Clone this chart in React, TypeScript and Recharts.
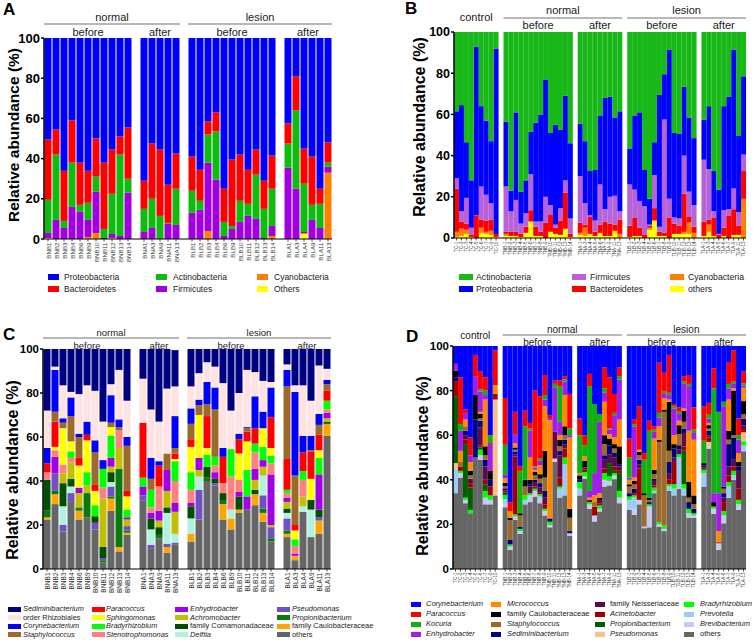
import React from "react";
import { BarChart, Bar, XAxis, YAxis } from "recharts";

const FONT = "'Liberation Sans', Arial, Helvetica, sans-serif";

// ---------- panel A : phylum level, normal / lesion skin ----------
const aSamples = [
  "BNB1", "BNB2", "BNB3", "BNB4", "BNB6", "BNB9", "BNB10", "BNB11", "BNB12", "BNB13", "BNB14",
  "BNA1", "BNA3", "BNA9", "BNA11", "BNA13",
  "BLB1", "BLB2", "BLB3", "BLB4", "BLB6", "BLB9", "BLB10", "BLB11", "BLB12", "BLB13", "BLB14",
  "BLA1", "BLA3", "BLA4", "BLA9", "BLA11", "BLA13",
];
const aGroupSizes = [11, 5, 11, 6];
const aOthers = [0.5, 0, 0, 0, 0, 0, 0, 0, 0.5, 0, 0, 0, 0, 0, 0, 0, 0, 0, 0, 0, 0, 0, 0, 0, 0, 0, 0, 0, 0, 2.5, 0, 0, 0];
const aCyano = [0, 0, 0, 0, 0, 1, 3, 0, 0, 0, 0, 0, 0, 0, 0, 0, 0, 0, 4, 0, 0, 0, 0, 0, 0, 0, 1.5, 0, 0, 0.5, 0, 0, 33];
const aFirm = [2.5, 9.5, 5.5, 16, 13.5, 8.5, 20.5, 0.5, 2, 1.5, 23, 3.5, 5.5, 0.3, 7.5, 7, 13, 14.5, 34, 29.5, 1.5, 5, 8.5, 11.5, 10, 0.5, 5, 35.5, 25, 0.5, 9.5, 5.5, 3];
const aActino = [16.5, 32.5, 3.5, 22, 3.5, 8.5, 7.5, 4.5, 20, 40.5, 7, 11.5, 14.5, 11.2, 0.5, 18, 11, 4.5, 14, 24, 7, 1.5, 10.5, 6, 22, 14.5, 18.5, 12, 39, 24, 7.5, 12, 2];
const aBactero = [30, 12.5, 25, 21, 21, 16, 19, 33, 22, 9, 25.5, 14, 27.5, 33, 19, 17.5, 17, 15.5, 6.5, 9.5, 16.5, 33, 23, 17, 12.5, 14, 16.5, 10, 17, 17.5, 24, 7.5, 10];
const aProteo = [50.5, 45.5, 66, 41, 62, 66, 50, 62, 55.5, 49, 44.5, 71, 52.5, 55.5, 73, 57.5, 59, 65.5, 41.5, 37, 75, 60.5, 58, 65.5, 55.5, 71, 58.5, 42.5, 19, 55, 59, 75, 52];

// ---------- panel B : phylum level, control / normal / lesion ----------
const bSamples = [
  "TC-1", "TC-2", "TC-3", "TC-4", "TC-5", "TC-6", "TC-7", "TC-9", "TC-10",
  "TNB-1", "TNB-2", "TNB-3", "TNB-4", "TNB-5", "TNB-6", "TNB-7", "TNB-8", "TNB-9", "TNB-10", "TNB-11", "TNB-12", "TNB-13", "TNB-14",
  "TNA-1", "TNA-3", "TNA-4", "TNA-5", "TNA-6", "TNA-7", "TNA-9", "TNA-11", "TNA-13",
  "TLB-1", "TLB-2", "TLB-3", "TLB-4", "TLB-5", "TLB-6", "TLB-7", "TLB-8", "TLB-9", "TLB-10", "TLB-11", "TLB-12", "TLB-13", "TLB-14",
  "TLA-1", "TLA-3", "TLA-4", "TLA-5", "TLA-6", "TLA-7", "TLA-9", "TLA-11", "TLA-13",
];
const bGroupSizes = [9, 14, 9, 14, 9];
const bOthers = [
  0.5, 1, 2, 0.5, 0, 2.5, 2, 1.5, 0.5,
  1, 1, 1, 0.5, 2.5, 8, 1, 1, 0, 3, 2, 1.5, 4.5, 0.5,
  1.5, 1, 2, 1, 2.5, 1, 1, 3.5, 0,
  0.5, 1, 1, 0, 4, 8.5, 1, 1, 0, 2, 2, 2, 2, 0,
  1, 3, 1, 0, 1, 0, 1.5, 1.5, 0,
];
const bCyano = [
  2.5, 3.5, 2, 0, 0, 2.5, 1, 2, 0,
  1, 0, 0, 0, 0, 0, 0, 0, 0, 0, 0, 0, 0, 0,
  1, 4, 0, 0, 0, 0, 0, 0, 2,
  0, 0, 0, 0, 1, 0, 0, 0, 0, 0, 0, 1, 5.5, 2.5,
  0, 3.5, 0, 0, 0, 0, 0, 0, 19,
];
const bBactero = [
  21, 3.5, 3, 1, 11, 4, 5.5, 5.5, 1.5,
  1, 2, 2, 1.5, 3, 5.5, 4.5, 2, 7.5, 8.5, 3, 7, 17.5, 1.5,
  5, 1.5, 8.5, 2, 4, 7, 6, 3, 7,
  5.5, 9, 4, 1.5, 1, 6, 2, 1.5, 10, 5, 4, 18.5, 3, 3,
  7, 2.5, 9, 1.5, 4, 11, 12.5, 4.5, 13.5,
];
const bFirm = [
  5, 5, 12.5, 3.5, 0, 16, 12.5, 8, 0,
  22, 10, 15.5, 5, 6.5, 17.5, 2.5, 5, 12.5, 4.5, 1.5, 6, 6, 7.5,
  22.5, 10.5, 0.5, 5.5, 19.5, 6, 13, 14, 4,
  20, 13.5, 13, 14, 0.5, 16, 2.5, 55, 9, 3, 3.5, 18.5, 12, 10.5,
  30, 24.5, 3, 0.5, 8.5, 3, 10, 6.5, 8,
];
const bProteo = [
  32.5, 51.5, 27, 23, 82, 39, 36, 30, 90,
  31.5, 10, 42.5, 15.5, 16, 20.5, 48, 52, 57, 35, 48.5, 38, 41, 36.5,
  25.5, 30, 21.5, 24.5, 33.5, 54, 48.5, 38, 48.5,
  17.5, 36, 43, 17.5, 12.5, 16, 64, 22, 72.5, 41, 41, 33.5, 36, 32.5,
  19.5, 30.5, 19.5, 21.5, 50.5, 54.5, 67.5, 37, 38,
];
const bActino = [
  38.5, 35.5, 53.5, 72, 7, 36, 43, 53, 8,
  43.5, 77, 39, 77.5, 72, 48.5, 44, 40, 23, 49, 45, 47.5, 31, 54,
  44.5, 53, 67.5, 67, 40.5, 32, 31.5, 41.5, 38.5,
  56.5, 40.5, 39, 67, 81, 53.5, 30.5, 20.5, 8.5, 49, 49.5, 26.5, 41.5, 51.5,
  42.5, 36, 67.5, 76.5, 36, 31.5, 8.5, 50.5, 21.5,
];

// ---------- panel C : genus level, normal / lesion skin ----------
const cOthers = [22.5, 29.5, 17, 30.5, 22.5, 23.5, 18, 3, 26.5, 8, 15.5, 31, 9.5, 14, 7.5, 11, 12.5, 22.5, 40, 38, 22.5, 18, 25.5, 27, 29, 21.5, 12.5, 14.5, 4, 26, 14.5, 16, 60.5];
const cCaulo = [1, 4.5, 0, 0, 4, 0, 0, 0, 5.5, 2, 1, 0, 0, 0, 2.5, 0, 3.5, 0, 0, 0, 7, 5, 1.5, 0, 5, 4, 0, 1.5, 2, 0, 0, 6, 5.5];
const cPropi = [3, 1.5, 0, 0, 1.5, 11, 0, 1, 1, 35.5, 1, 0, 0, 1.5, 0, 0, 0, 0, 1.5, 0, 1.5, 0, 0, 0, 0, 2, 1.5, 1.5, 0, 0, 0, 0, 0];
const cPseudo = [0, 8, 3, 4, 0, 0, 3, 1, 4.5, 0, 2, 2.5, 1.5, 0, 1.5, 1, 0, 13.5, 0, 1, 0, 0, 0, 0, 0, 6, 5, 5.5, 0, 0, 0, 1.5, 0];
const cDelftia = [0, 0, 8.5, 3, 0, 0, 0, 0, 2, 0, 0, 0, 7, 0, 14, 4, 7, 6, 0, 0, 0, 4, 0, 0, 0, 9, 0, 2.5, 0, 2.5, 12.5, 0, 0];
const cComam = [14, 0, 10.5, 3.5, 0, 0, 3, 5, 4.5, 0, 0, 0, 5, 3.5, 2.5, 0, 5.5, 0, 5, 2, 3.5, 0, 6, 0, 2, 0, 0, 2, 0, 0, 4.5, 3.5, 1];
const cAchro = [0, 0, 4.5, 7.5, 6.5, 3.5, 0, 22, 2.5, 9.5, 3, 0, 0, 3, 7.5, 10, 0, 3, 0, 0, 0, 0, 0, 0, 4.5, 4, 1, 3, 0, 4.5, 0, 0, 1.5];
const cEnhydro = [0, 7.5, 0, 0, 2.5, 0, 0, 0, 4, 0, 1, 4, 2.5, 4.5, 9.5, 4, 1.5, 5.5, 0, 3, 0, 0, 2, 6, 5, 3, 23, 2, 1, 0, 0, 16, 2.5];
const cSteno = [3.5, 3, 4, 2, 0, 0, 0, 5, 0, 8, 0, 0, 2.5, 11, 0, 10, 6, 0, 0, 3, 4.5, 15, 5.5, 0, 7.5, 0, 5, 2, 3.5, 7.5, 0, 0, 1.5];
const cBrady = [0, 0, 0, 3, 0, 6, 5, 8.5, 10, 0, 3.5, 4, 8, 0, 0, 9, 8, 0, 5.5, 4, 0, 12.5, 0, 12, 4, 6, 3.5, 1.5, 3, 4, 0, 7.5, 4];
const cSphingo = [0, 1.5, 16.5, 4.5, 10, 14.5, 6.5, 0, 4, 0, 6, 0, 0, 0, 0, 1, 11.5, 19.5, 3, 0, 0, 0, 12, 13, 0, 8.5, 3.5, 0, 4, 0, 9.5, 3.5, 0];
const cParac = [4, 11.5, 0, 0, 3.5, 2.5, 3, 0, 0, 0, 2.5, 25, 0, 9.5, 0, 2.5, 3.5, 0, 14.5, 0, 12, 0, 6.5, 4.5, 7, 0, 14, 14, 2.5, 8.5, 12.5, 7, 4.5];
const cStaph = [0, 4.5, 2.5, 11.5, 9.5, 0, 14.5, 0, 2, 1.5, 20.5, 0, 5, 0, 7.5, 2.5, 7, 4.5, 5.5, 21.5, 0, 0, 0, 1.5, 0, 0, 0, 33, 22.5, 0, 0.5, 4.5, 3];
const cCoryne = [7, 19, 2, 8.5, 1.5, 6, 5.5, 4, 12.5, 3.5, 4, 0, 9.5, 2, 0, 14.5, 7, 2.5, 10, 10, 4, 0, 2.5, 0.5, 14.5, 7.5, 13.5, 7.5, 38, 7.5, 6.5, 5, 2];
const cRhizo = [17, 1.5, 15, 2.5, 18, 16.5, 22.5, 17.5, 5, 22.5, 16.5, 20, 22, 18, 29.5, 13.5, 10, 12, 9, 9.5, 29.5, 17.5, 18.5, 26, 11, 14, 2.5, 2.5, 3, 23, 16, 22, 5];
const cSedi = [28, 8, 16.5, 19.5, 20.5, 16.5, 19, 33, 16, 9.5, 23.5, 13.5, 27.5, 33, 18, 16.5, 17, 11, 6, 8, 15.5, 28, 20, 9.5, 10.5, 14.5, 15, 7, 16.5, 16.5, 23.5, 7.5, 9];

// ---------- panel D : genus level, control / normal / lesion ----------
const dOthers = [
  34, 41, 29.5, 25, 50, 49, 29, 29, 33,
  27.7, 8.5, 22, 15.7, 29, 30, 32.5, 29.5, 24, 18.7, 48, 32, 33, 15,
  33, 40.5, 27, 21.3, 25.8, 37, 37.5, 40.3, 29.5,
  26.5, 24.3, 29, 18.3, 18.7, 34, 19, 17, 35, 33, 36, 33, 23, 23,
  37, 54, 24.7, 8.5, 20.5, 32, 40, 26.5, 52.8,
];
const dBrevi = [
  0, 2, 1.5, 0, 0, 2, 3, 2, 0,
  1.5, 1.5, 1.5, 1.3, 0, 3, 2.5, 2, 2, 1, 1.5, 0, 0, 1,
  0, 1, 2, 2.7, 1.2, 3, 2, 1.7, 2.5,
  0, 2.7, 2, 0.7, 9.3, 0, 1, 1, 0, 0, 0, 0, 2, 1,
  0, 1, 2.3, 3, 3.5, 0, 0, 2.5, 0.5,
];
const dPrev = [
  11, 0, 0, 0, 0, 0, 0, 0, 0,
  2, 0, 0, 0, 2, 0, 0, 1, 0, 0, 0, 4, 14, 0,
  3, 0, 0, 0, 0, 0, 0, 0, 0,
  4.5, 5, 0, 0, 0, 1, 0, 0, 2, 3, 14, 3, 0, 0,
  6, 0, 0, 0, 0, 5, 2, 0, 2,
];
const dBrady = [
  0, 1, 1, 1.5, 0, 2.5, 3, 2, 0,
  2, 1, 1, 1, 2, 1, 1, 1, 1, 1.5, 0, 1, 3, 0,
  3, 2, 1, 0, 1.5, 3, 2, 1, 3,
  1.5, 1, 0, 0, 1, 1.5, 1, 1.5, 1, 2, 1.5, 2, 2, 1,
  1.5, 0, 1, 0, 2, 2, 2, 2, 2,
];
const dPseud = [
  2.5, 0, 0, 0, 0, 0, 0, 0, 43,
  0, 0, 0, 0, 0, 0, 0, 0, 0, 0, 0, 0, 0, 0,
  0, 0, 0, 0, 0, 0, 0, 0, 0,
  0, 0, 0, 0, 0, 0, 0, 0, 0, 0, 0, 0, 0, 0,
  0, 2, 0, 0, 0, 0, 0, 0, 4,
];
const dPropi = [
  30, 0, 24, 10, 0, 1, 3, 0, 0,
  1, 0, 0, 0, 0, 0, 0, 0, 0, 0, 0, 0, 0, 0,
  0, 0, 0, 0, 0, 0, 6, 1, 8,
  0, 0, 0, 0, 0, 0, 0, 0, 0, 0, 0, 15, 0, 0,
  0, 0, 0, 0, 0, 0, 0, 0, 0,
];
const dAcin = [
  6.5, 2, 2, 2, 0, 1, 2, 4, 2.5,
  1, 0, 26, 0, 0, 0, 1, 1, 2, 0, 0, 4, 4, 0,
  0, 1, 0, 4, 1, 2, 0, 2, 1,
  0, 1, 14, 0, 0, 1, 0, 0, 2, 10, 0, 2, 0, 0,
  1, 2, 0, 0.5, 4, 3, 2, 5, 1,
];
const dNeiss = [
  0, 0, 2, 2, 0, 8, 6, 0, 0,
  0, 0, 1, 0, 0, 3, 2, 2, 3, 0, 12, 10, 2, 0,
  0, 1, 1, 0, 1.5, 4, 4, 4, 2,
  0, 0, 2, 0, 0, 2, 0, 0, 3, 2, 2, 6, 0, 0,
  0, 1, 0, 0, 2, 4, 3, 8, 2,
];
const dSedim = [
  2, 0, 2, 0, 17, 3, 3, 3, 0,
  1, 2, 1, 1, 0, 1, 1, 2, 3, 1.5, 0, 2, 2, 1,
  1, 0, 0, 0, 0, 2, 4, 2, 1,
  1.5, 2, 2, 0, 1, 1, 0, 0, 5, 4, 2, 2, 3, 2,
  1, 2, 0, 0, 2, 10, 10, 2, 3,
];
const dStaph = [
  0, 2, 2, 1.5, 0, 1, 2, 0, 0,
  1, 9, 1, 5, 4, 0, 2, 2, 6, 0, 0, 2, 2, 6,
  0, 0, 0, 2, 0, 5, 0, 2, 0,
  3, 2, 2, 14, 1, 2, 36, 51, 5, 0, 5, 3, 2, 2,
  0, 1, 0, 0, 2, 2, 1, 0, 2,
];
const dCaulo = [
  3, 0, 0, 2, 11, 2, 4, 4, 0,
  1.5, 1, 1, 1, 3, 2, 1.5, 2, 12, 0, 0, 3, 4, 4,
  2, 3, 0, 0, 1, 4, 3, 2, 8,
  1, 1.5, 1.5, 1, 1, 2, 1, 1, 22, 2, 4, 5, 7, 4,
  1, 1.5, 2, 0, 1, 4, 20, 2, 6,
];
const dMicro = [
  0, 5, 3, 4, 0, 1, 21, 0, 4,
  2, 3, 2, 0, 0, 10, 1, 4, 20, 44, 0, 2, 14, 32,
  1, 2, 1, 3, 2, 15, 2, 3, 12,
  2, 1.5, 1, 0, 0, 14, 6, 5, 1, 4, 2, 1, 23, 25,
  0, 1, 0, 5, 0, 14, 1, 4, 6,
];
const dEnhyd = [
  3, 9, 3, 3, 8.5, 9, 2, 12.5, 0,
  1.5, 0, 4, 0, 0, 12, 1, 2, 3, 1, 20, 6, 6, 1,
  0, 0, 3, 10, 32, 4, 2, 10, 18,
  1, 23, 0, 0, 0, 3, 4, 2, 2, 12, 3, 11, 20, 3,
  0, 2, 4, 17, 36, 5, 2, 6, 1,
];
const dKocur = [
  0, 3, 0, 0, 0, 1, 2, 3.5, 0,
  13.5, 0, 0, 19, 24, 1, 0.5, 1, 2, 0, 1.5, 16, 1, 3,
  17, 5, 47, 31, 3.5, 2, 0.5, 1, 1.5,
  9, 1, 0, 15, 30, 1, 2, 1, 1, 1, 1, 1, 1, 1.5,
  10, 2, 47, 36.5, 2, 2, 1, 2, 1,
];
const dParac = [
  0, 21, 1.5, 8, 9.5, 8, 6, 0, 15.5,
  21, 4, 10, 2, 7, 2.5, 34, 28, 9, 1.3, 1.5, 2.5, 1.5, 15.5,
  7.5, 4.5, 5.5, 0, 0, 9.5, 23, 8.5, 4,
  8.5, 2, 19.5, 3, 4.5, 1.5, 22.5, 8.5, 17, 1, 2, 2.5, 4, 10,
  15.5, 5, 9, 0, 0, 9.5, 14, 7.5, 5.2,
];
const dCoryne = [
  8, 14, 28.5, 41, 4, 11.5, 14, 40, 2,
  23.3, 70, 29.5, 54, 29, 34.5, 20, 22.5, 13, 31, 15.5, 15.5, 13.5, 21.5,
  32.5, 40, 12.5, 26, 30.5, 9.5, 14, 21.5, 9.5,
  41.5, 33, 27, 48, 33.5, 36, 7.5, 12, 4, 26, 27.5, 13.5, 13, 27.5,
  27, 25.5, 10, 29.5, 25, 7.5, 2, 32.5, 11.5,
];

type Series = { key: string; label: string; color: string; italic?: boolean; values: number[] };

// stack order = bottom to top
const aSeries: Series[] = [
  { key: "others", label: "Others", color: "#FFFF00", values: aOthers },
  { key: "cyano", label: "Cyanobacteria", color: "#FF8000", values: aCyano },
  { key: "firm", label: "Firmicutes", color: "#A000E0", values: aFirm },
  { key: "actino", label: "Actinobacteria", color: "#10BB10", values: aActino },
  { key: "bactero", label: "Bacteroidetes", color: "#FF0000", values: aBactero },
  { key: "proteo", label: "Proteobacteria", color: "#0000FF", values: aProteo },
];

const bSeries: Series[] = [
  { key: "others", label: "others", color: "#FFFF00", values: bOthers },
  { key: "cyano", label: "Cyanobacteria", color: "#FF8000", values: bCyano },
  { key: "bactero", label: "Bacteroidetes", color: "#FF0000", values: bBactero },
  { key: "firm", label: "Firmicutes", color: "#B862DA", values: bFirm },
  { key: "proteo", label: "Proteobacteria", color: "#0000FF", values: bProteo },
  { key: "actino", label: "Actinobacteria", color: "#18B818", values: bActino },
];

const cSeries: Series[] = [
  { key: "others", label: "others", color: "#666666", values: cOthers },
  { key: "caulo", label: "family Caulobacteraceae", color: "#FFA500", values: cCaulo },
  { key: "propi", label: "Propionibacterium", color: "#0A7A0A", italic: true, values: cPropi },
  { key: "pseudo", label: "Pseudomonas", color: "#7050C4", italic: true, values: cPseudo },
  { key: "delftia", label: "Delftia", color: "#B0F2DE", italic: true, values: cDelftia },
  { key: "comam", label: "family Comamonadaceae", color: "#004E00", values: cComam },
  { key: "achro", label: "Achromobacter", color: "#C0C000", italic: true, values: cAchro },
  { key: "enhydro", label: "Enhydrobacter", color: "#A000E6", italic: true, values: cEnhydro },
  { key: "steno", label: "Stenotrophomonas", color: "#FF8080", italic: true, values: cSteno },
  { key: "brady", label: "Bradyrhizobium", color: "#00FF00", italic: true, values: cBrady },
  { key: "sphingo", label: "Sphingomonas", color: "#FFFF00", italic: true, values: cSphingo },
  { key: "parac", label: "Paracoccus", color: "#FF0000", italic: true, values: cParac },
  { key: "staph", label: "Staphylococcus", color: "#9C6A2A", italic: true, values: cStaph },
  { key: "coryne", label: "Corynebacterium", color: "#0000FF", italic: true, values: cCoryne },
  { key: "rhizo", label: "order Rhizobiales", color: "#FFE2E2", values: cRhizo },
  { key: "sedi", label: "Sediminibacterium", color: "#000080", italic: true, values: cSedi },
];

const dSeries: Series[] = [
  { key: "others", label: "others", color: "#666666", values: dOthers },
  { key: "brevi", label: "Brevibacterium", color: "#C8C8F8", italic: true, values: dBrevi },
  { key: "prev", label: "Prevotella", color: "#9CCBF5", italic: true, values: dPrev },
  { key: "brady", label: "Bradyrhizobium", color: "#00FF00", italic: true, values: dBrady },
  { key: "pseud", label: "Pseudomonas", color: "#F7C08C", italic: true, values: dPseud },
  { key: "propi", label: "Propionibacterium", color: "#006000", italic: true, values: dPropi },
  { key: "acin", label: "Acinetobacter", color: "#A00000", italic: true, values: dAcin },
  { key: "neiss", label: "family Neisseriaceae", color: "#5E0A4A", values: dNeiss },
  { key: "sedim", label: "Sediminibacterium", color: "#000080", italic: true, values: dSedim },
  { key: "staph", label: "Staphylococcus", color: "#9C6A2A", italic: true, values: dStaph },
  { key: "caulo", label: "family Caulobacteraceae", color: "#000000", values: dCaulo },
  { key: "micro", label: "Micrococcus", color: "#FF8800", italic: true, values: dMicro },
  { key: "enhyd", label: "Enhydrobacter", color: "#A21EE8", italic: true, values: dEnhyd },
  { key: "kocur", label: "Kocuria", color: "#10B010", italic: true, values: dKocur },
  { key: "parac", label: "Paracoccus", color: "#FF0000", italic: true, values: dParac },
  { key: "coryne", label: "Corynebacterium", color: "#0000FF", italic: true, values: dCoryne },
];

// rows for recharts, with one empty category between sample groups
function buildRows(names: string[], groups: number[], series: Series[]) {
  const rows: any[] = [];
  let i = 0;
  groups.forEach((n, g) => {
    if (g > 0) rows.push({ name: `gap${g}` });
    for (let k = 0; k < n; k++, i++) {
      const row: any = { name: names[i] };
      series.forEach((s) => (row[s.key] = s.values[i]));
      rows.push(row);
    }
  });
  return rows;
}

function CatTick(props: any) {
  const { x, y, payload, fontSize } = props;
  const v = String(payload?.value ?? "");
  if (v.startsWith("gap")) return <g />;
  return (
    <g transform={`translate(${x},${y})`}>
      <line x1={0} y1={0} x2={0} y2={2.5} stroke="#000" strokeWidth={0.7} />
      <text
        transform="rotate(-90)"
        x={-3.5}
        y={0}
        textAnchor="end"
        dominantBaseline="central"
        fontSize={fontSize}
        fontFamily={FONT}
        fill="#333"
      >
        {v}
      </text>
    </g>
  );
}

function StackChart({ box, margin, rows, series, catFont, yFont, catGap }: any) {
  return (
    <div style={{ position: "absolute", left: box.x, top: box.y }}>
      <BarChart width={box.w} height={box.h} data={rows} margin={margin} barCategoryGap={catGap} barGap={0}>
        <XAxis
          dataKey="name"
          interval={0}
          height={24}
          tickLine={false}
          tickSize={0}
          tickMargin={0}
          axisLine={{ stroke: "#000", strokeWidth: 1.2 }}
          tick={(p: any) => <CatTick {...p} fontSize={catFont} />}
        />
        <YAxis
          type="number"
          domain={[0, 100]}
          ticks={[0, 20, 40, 60, 80, 100]}
          allowDataOverflow
          width={40}
          tickSize={3}
          tickMargin={1}
          tick={{ fill: "#000", fontSize: yFont, fontWeight: 700, fontFamily: FONT }}
          tickLine={{ stroke: "#000", strokeWidth: 1.5 }}
          axisLine={{ stroke: "#000", strokeWidth: 1.5 }}
        />
        {series.map((s: Series) => (
          <Bar key={s.key} dataKey={s.key} stackId="s" fill={s.color} isAnimationActive={false} />
        ))}
      </BarChart>
    </div>
  );
}

function Legend({ items, cols, rows, sqW, sqH, fontSize }: any) {
  return (
    <>
      {items.map((it: Series, i: number) => {
        const c = Math.floor(i / rows.length);
        const r = i % rows.length;
        return (
          <React.Fragment key={it.key + i}>
            <div
              style={{
                position: "absolute",
                left: cols[c][0],
                top: rows[r] - sqH / 2,
                width: sqW,
                height: sqH,
                background: it.color,
              }}
            />
            <div
              style={{
                position: "absolute",
                left: cols[c][1],
                top: rows[r],
                transform: "translateY(-50%)",
                fontSize,
                lineHeight: 1,
                fontFamily: FONT,
                fontStyle: it.italic ? "italic" : "normal",
                color: "#222",
                whiteSpace: "nowrap",
              }}
            >
              {it.label}
            </div>
          </React.Fragment>
        );
      })}
    </>
  );
}

function pick(series: Series[], keys: string[]) {
  return keys.map((k) => series.find((s) => s.key === k)!);
}

// header annotations (group brackets) drawn over the charts
function Headers({ plotLeft, plotTop, band, groups, tops, subs, font, topDy, lineDy, subDy }: any) {
  const starts: number[] = [];
  let idx = 0;
  groups.forEach((n: number) => {
    starts.push(idx);
    idx += n + 1;
  });
  const gx0 = (g: number) => plotLeft + starts[g] * band;
  const gx1 = (g: number) => plotLeft + (starts[g] + groups[g]) * band;
  return (
    <g fontFamily={FONT} fontSize={font} fill="#222">
      {tops.map((t: any) => {
        const x0 = gx0(t.from);
        const x1 = gx1(t.to);
        return (
          <g key={t.text}>
            <text x={(x0 + x1) / 2} y={plotTop + (t.dy ?? topDy)} textAnchor="middle" dominantBaseline="central">
              {t.text}
            </text>
            {t.line && <line x1={x0} x2={x1} y1={plotTop + lineDy} y2={plotTop + lineDy} stroke="#A0A0A0" strokeWidth={1.5} />}
          </g>
        );
      })}
      {subs.map((s: string | null, g: number) =>
        s ? (
          <text key={g} x={(gx0(g) + gx1(g)) / 2} y={plotTop + subDy} textAnchor="middle" dominantBaseline="central">
            {s}
          </text>
        ) : null
      )}
    </g>
  );
}

function YLabel({ x, y, size }: any) {
  return (
    <text
      x={x}
      y={y}
      transform={`rotate(-90 ${x} ${y})`}
      textAnchor="middle"
      dominantBaseline="central"
      fontFamily={FONT}
      fontWeight={700}
      fontSize={size}
      fill="#000"
    >
      Relative abundance (%)
    </text>
  );
}

export default function App() {
  const aRows = buildRows(aSamples, aGroupSizes, aSeries);
  const bRows = buildRows(bSamples, bGroupSizes, bSeries);
  const cRows = buildRows(aSamples, aGroupSizes, cSeries);
  const dRows = buildRows(bSamples, bGroupSizes, dSeries);

  const nlTops = [
    { text: "normal", from: 0, to: 1, line: true },
    { text: "lesion", from: 2, to: 3, line: true },
  ];
  const cnlTops = (ctrlDy: number) => [
    { text: "control", from: 0, to: 0, line: false, dy: ctrlDy },
    { text: "normal", from: 1, to: 2, line: true },
    { text: "lesion", from: 3, to: 4, line: true },
  ];
  const ba = ["before", "after", "before", "after"];

  return (
    <div style={{ position: "absolute", left: 0, top: 0, width: 754, height: 640, background: "#fff", overflow: "hidden" }}>
      <StackChart
        box={{ x: 0, y: 0, w: 340, h: 270 }}
        margin={{ top: 38, left: 4, right: 8, bottom: 7 }}
        rows={aRows}
        series={aSeries}
        catFont={6.2}
        yFont={13}
        catGap={0.5}
      />
      <StackChart
        box={{ x: 377, y: 0, w: 377, h: 270 }}
        margin={{ top: 32, left: 37, right: 8, bottom: 8 }}
        rows={bRows}
        series={bSeries}
        catFont={4.6}
        yFont={12.5}
        catGap={0}
      />
      <StackChart
        box={{ x: 0, y: 300, w: 340, h: 300 }}
        margin={{ top: 49, left: 3, right: 9, bottom: 7 }}
        rows={cRows}
        series={cSeries}
        catFont={6.5}
        yFont={11.5}
        catGap={0.5}
      />
      <StackChart
        box={{ x: 377, y: 300, w: 377, h: 300 }}
        margin={{ top: 46, left: 36, right: 8, bottom: 7 }}
        rows={dRows}
        series={dSeries}
        catFont={4.6}
        yFont={11.5}
        catGap={0}
      />

      <Legend
        items={pick(aSeries, ["proteo", "bactero", "actino", "firm", "cyano", "others"])}
        cols={[[48, 64], [156, 173], [257, 274]]}
        rows={[277, 289]}
        sqW={11}
        sqH={6}
        fontSize={8.5}
      />
      <Legend
        items={pick(bSeries, ["actino", "proteo", "firm", "bactero", "cyano", "others"])}
        cols={[[459, 476], [572, 590], [670, 688]]}
        rows={[277, 289]}
        sqW={14}
        sqH={6}
        fontSize={8.7}
      />
      <Legend
        items={pick(cSeries, [
          "sedi", "rhizo", "coryne", "staph",
          "parac", "sphingo", "brady", "steno",
          "enhydro", "achro", "comam", "delftia",
          "pseudo", "propi", "caulo", "others",
        ])}
        cols={[[8, 23], [92, 106], [175, 190], [277, 292]]}
        rows={[609, 617.5, 626, 634.5]}
        sqW={13}
        sqH={5}
        fontSize={7.4}
      />
      <Legend
        items={pick(dSeries, [
          "coryne", "parac", "kocur", "enhyd",
          "micro", "caulo", "staph", "sedim",
          "neiss", "acin", "propi", "pseud",
          "brady", "prev", "brevi", "others",
        ])}
        cols={[[411, 426], [491, 507], [595, 610], [684, 700]]}
        rows={[604, 614, 624, 634]}
        sqW={10}
        sqH={5}
        fontSize={7.5}
      />

      <svg width={754} height={640} style={{ position: "absolute", left: 0, top: 0, pointerEvents: "none" }}>
        <g fontFamily={FONT} fontWeight={700} fontSize={17} fill="#000">
          <text x={3} y={15}>A</text>
          <text x={405} y={14}>B</text>
          <text x={3} y={340}>C</text>
          <text x={406} y={342}>D</text>
        </g>
        <YLabel x={13} y={135} size={15.5} />
        <YLabel x={419} y={127} size={16} />
        <YLabel x={12} y={470} size={16} />
        <YLabel x={422} y={466} size={16} />
        <Headers plotLeft={44} plotTop={38} band={8} groups={aGroupSizes} tops={nlTops} subs={ba}
          font={11} topDy={-21} lineDy={-14} subDy={-6} />
        <Headers plotLeft={454} plotTop={32} band={292 / 59} groups={bGroupSizes} tops={cnlTops(-15)}
          subs={[null, ...ba]} font={11} topDy={-22} lineDy={-14} subDy={-7} />
        <Headers plotLeft={43} plotTop={349} band={8} groups={aGroupSizes} tops={nlTops} subs={ba}
          font={9.5} topDy={-17} lineDy={-11} subDy={-4} />
        <Headers plotLeft={453} plotTop={346} band={293 / 59} groups={bGroupSizes} tops={cnlTops(-11)}
          subs={[null, ...ba]} font={10} topDy={-17} lineDy={-11} subDy={-4} />
      </svg>
    </div>
  );
}
